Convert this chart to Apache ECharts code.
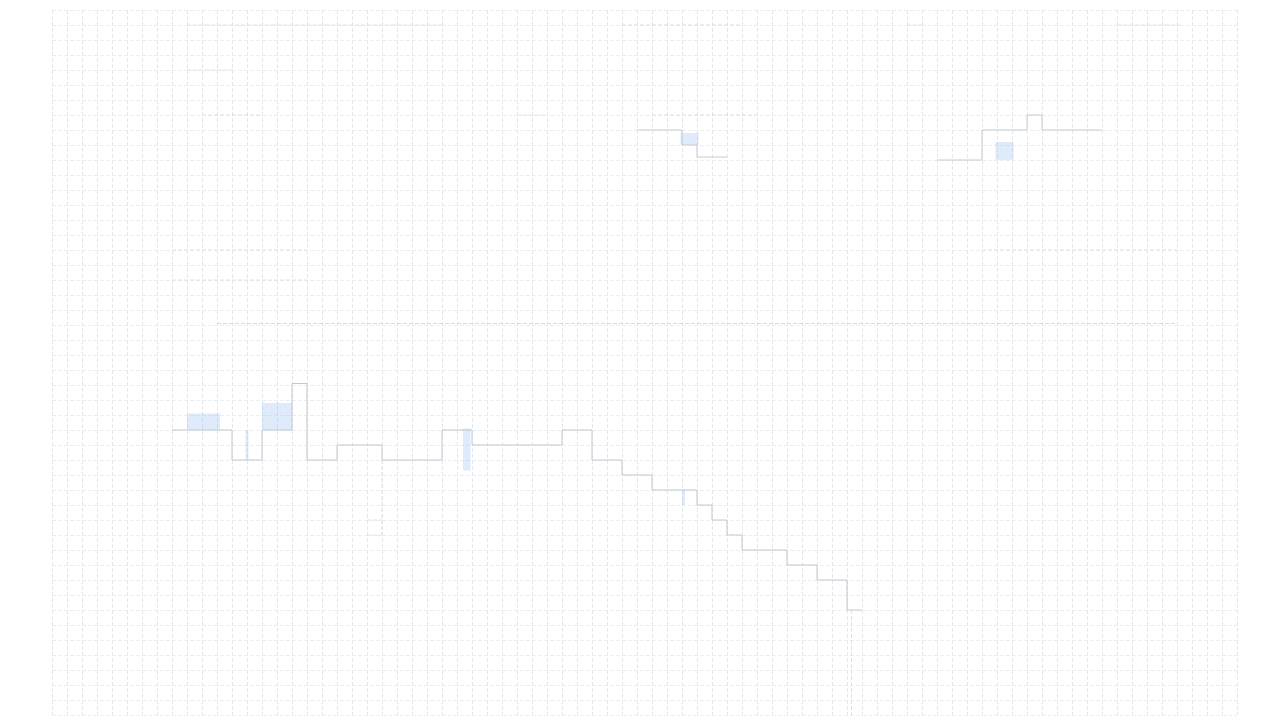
<!DOCTYPE html>
<html>
<head>
    <meta charset="utf-8">
    <style>
        html, body {
            height: 100%;
        }

        * {
            margin: 0;
            padding: 0;
        }

        #container {
            width: 1280px;
            height: 720px;
        }
    </style>
</head>
<body>
<div id="container"></div>
<script type="text/javascript" src="https://cdn.jsdelivr.net/npm/echarts@6/dist/echarts.min.js"></script>
<script type="text/javascript">
    // main staircase, one value per column
    let mainX = [8, 9, 10, 11, 12, 13, 14, 15, 16, 17, 18, 19, 20, 21, 22, 23, 24, 25, 26, 27, 28, 29, 30, 31, 32, 33,
        34, 35, 36, 37, 38, 39, 40, 41, 42, 43, 44, 45, 46, 47, 48, 49, 50, 51, 52, 53, 54];
    let mainY = [19, 19, 19, 19, 17, 17, 19, 19, 22.1, 17, 17, 18, 18, 18, 17, 17, 17, 17, 19, 19, 18, 18, 18, 18, 18, 18,
        19, 19, 17, 17, 16, 16, 15, 15, 15, 14, 13, 12, 11, 11, 11, 10, 10, 9, 9, 7, 7];

    // short step pieces near the top
    let midX = [39, 40, 41, 42, 43, 44, 45];
    let midY = [39, 39, 39, 38, 37.2, 37.2, 37.2];
    let rightX = [59, 60, 61, 62, 63, 64, 65, 66, 67, 68, 69, 70];
    let rightY = [37, 37, 37, 39, 39, 39, 40, 39, 39, 39, 39, 39];

    // faint level segments: [fromX, toX, level]
    let faintSegments = [
        [9, 26.2, 46], [38, 46, 46], [57, 58.2, 46], [71, 75.2, 46],
        [9, 12.2, 43],
        [10, 14, 40], [31, 33, 40], [40, 47, 40],
        [8, 17, 31], [62, 75, 31],
        [8, 17, 29],
        [21, 22, 13], [21, 22, 12]
    ];
    // faint drops: [x, top, bottom]
    let faintDrops = [[53.3, 7, 0], [22, 17, 12]];
    let dashedLevel = 26.1;
    let dashedFrom = 11;
    let dashedTo = 75;

    // light blue blocks: [fromX, toX, low, high]
    let blocks = [
        [9, 11.2, 19, 20.1],
        [14, 16, 19, 20.8],
        [27.4, 27.9, 16.3, 19.1],
        [12.9, 13.1, 17, 19],
        [41.9, 43.1, 38, 38.8],
        [42, 42.2, 14, 15],
        [62.9, 64.1, 37, 38.2]
    ];

    function pairs(xs, ys) {
        return xs.map(function (x, i) { return [x, ys[i]]; });
    }

    let faintData = [];
    faintSegments.forEach(function (s) {
        faintData.push([s[0], s[2]], [s[1], s[2]], [s[1], null]);
    });
    faintDrops.forEach(function (d) {
        faintData.push([d[0], d[1]], [d[0], d[2]], [d[0], null]);
    });

    let dom = document.getElementById("container");
    let myChart = echarts.init(dom);
    let option = {
        animation: false,
        backgroundColor: '#ffffff',
        grid: {left: 52, right: 43, top: 10, bottom: 5},
        xAxis: {
            type: 'value',
            min: 0,
            max: 79,
            interval: 1,
            axisLine: {show: false},
            axisTick: {show: false},
            axisLabel: {show: false},
            splitLine: {show: true, lineStyle: {color: '#e2e8ee', type: 'dashed'}}
        },
        yAxis: {
            type: 'value',
            min: 0,
            max: 47,
            interval: 1,
            axisLine: {show: false},
            axisTick: {show: false},
            axisLabel: {show: false},
            splitLine: {show: true, lineStyle: {color: '#ebeef2', type: 'dashed'}}
        },
        series: [{
            name: 'main',
            type: 'line',
            step: 'end',
            showSymbol: false,
            lineStyle: {color: '#c2c7ce', width: 1},
            data: pairs(mainX, mainY),
            markArea: {
                silent: true,
                itemStyle: {color: 'rgba(140,182,240,0.28)'},
                data: blocks.map(function (b) {
                    return [{coord: [b[0], b[2]]}, {coord: [b[1], b[3]]}];
                })
            },
            markLine: {
                silent: true,
                symbol: 'none',
                label: {show: false},
                lineStyle: {color: '#d6dbe0', type: 'dashed', width: 1},
                data: [[{coord: [dashedFrom, dashedLevel]}, {coord: [dashedTo, dashedLevel]}]]
            }
        }, {
            name: 'mid',
            type: 'line',
            step: 'end',
            showSymbol: false,
            lineStyle: {color: '#c6cbd2', width: 1},
            data: pairs(midX, midY)
        }, {
            name: 'right',
            type: 'line',
            step: 'end',
            showSymbol: false,
            lineStyle: {color: '#c6cbd2', width: 1},
            data: pairs(rightX, rightY)
        }, {
            name: 'faint',
            type: 'line',
            showSymbol: false,
            connectNulls: false,
            lineStyle: {color: '#dde1e6', width: 1, type: 'dashed'},
            data: faintData
        }]
    };
    myChart.setOption(option, true);
</script>
</body>
</html>
